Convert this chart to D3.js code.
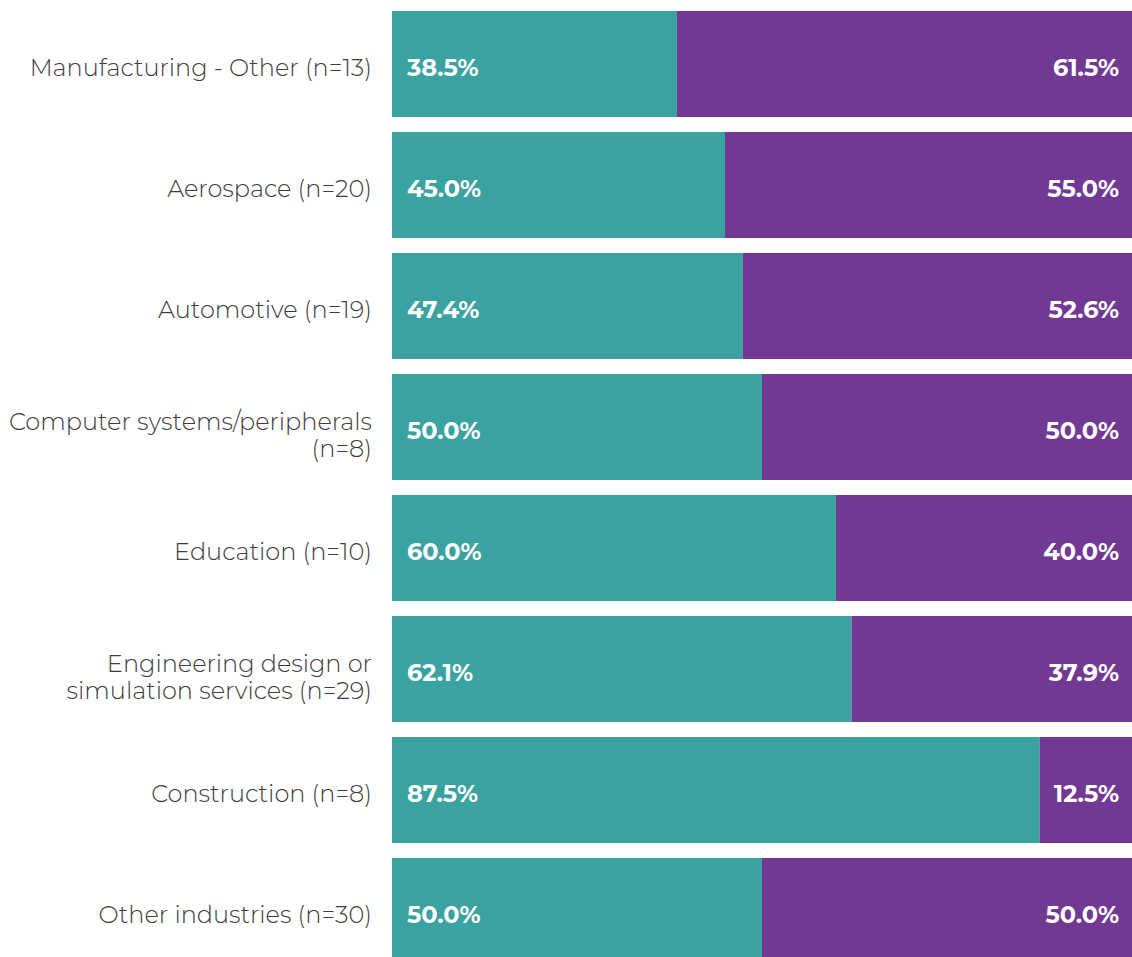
<!DOCTYPE html>
<html>
<head>
<meta charset="utf-8">
<script src="https://cdn.jsdelivr.net/npm/d3@7"></script>
<style>
  html, body { margin: 0; padding: 0; background: #ffffff; }
  svg { display: block; }
</style>
</head>
<body>
<svg id="chart" width="1132" height="957"></svg>
<script>
// Industry categories (label lines) and the two shares per industry, in percent
const categories = [
  ["Manufacturing - Other (n=13)"],
  ["Aerospace (n=20)"],
  ["Automotive (n=19)"],
  ["Computer systems/peripherals", "(n=8)"],
  ["Education (n=10)"],
  ["Engineering design or", "simulation services (n=29)"],
  ["Construction (n=8)"],
  ["Other industries (n=30)"]
];
const firstShare  = [38.5, 45.0, 47.4, 50.0, 60.0, 62.1, 87.5, 50.0];
const secondShare = [61.5, 55.0, 52.6, 50.0, 40.0, 37.9, 12.5, 50.0];
const seriesColors = ["#3aa2a0", "#723994"];

const svg = d3.select("#chart");
const plotLeft = 392, plotRight = 1132, plotTop = 11;
const step = 121, bandH = 106;
const pad = (step - bandH) / step;

const keys = categories.map((c, i) => i);
const y = d3.scaleBand()
  .domain(keys)
  .range([plotTop, plotTop + step * (keys.length - pad)])
  .paddingInner(pad)
  .paddingOuter(0);

const x = d3.scaleLinear().domain([0, 100]).range([plotLeft, plotRight]);

const rows = keys.map(i => ({
  i,
  lines: categories[i],
  a: firstShare[i],
  b: secondShare[i]
}));

const row = svg.append("g").selectAll("g.row").data(rows).join("g").attr("class", "row");

row.append("rect")
  .attr("x", x(0))
  .attr("y", d => y(d.i))
  .attr("width", d => x(d.a) - x(0))
  .attr("height", y.bandwidth())
  .attr("fill", seriesColors[0]);

row.append("rect")
  .attr("x", d => x(d.a))
  .attr("y", d => y(d.i))
  .attr("width", d => x(d.a + d.b) - x(d.a))
  .attr("height", y.bandwidth())
  .attr("fill", seriesColors[1]);

const font = "Montserrat, 'DejaVu Sans', sans-serif";

// Value labels: first share at the bar start, second share at the bar end
row.append("text")
  .attr("x", x(0) + 15)
  .attr("y", d => y(d.i) + y.bandwidth() / 2 + 3.6)
  .attr("dy", "0.35em")
  .attr("fill", "#ffffff")
  .attr("font-family", font)
  .attr("font-weight", "bold")
  .attr("font-size", 24)
  .text(d => d.a.toFixed(1) + "%");

row.append("text")
  .attr("x", x(100) - 13)
  .attr("text-anchor", "end")
  .attr("y", d => y(d.i) + y.bandwidth() / 2 + 3.6)
  .attr("dy", "0.35em")
  .attr("fill", "#ffffff")
  .attr("font-family", font)
  .attr("font-weight", "bold")
  .attr("font-size", 24)
  .text(d => d.b.toFixed(1) + "%");

// Category labels, right-aligned against the bars
const lab = row.append("text")
  .attr("text-anchor", "end")
  .attr("fill", "#3d3d3d")
  .attr("font-family", font)
  .attr("font-weight", 300)
  .attr("font-size", 24)
  .attr("transform", d => `translate(${plotLeft - 20},${y(d.i) + y.bandwidth() / 2})`);

lab.selectAll("tspan")
  .data(d => d.lines.map((t, k) => ({ t, k, n: d.lines.length })))
  .join("tspan")
  .attr("x", 0)
  .attr("y", d => d.n === 1 ? 4 : (d.k === 0 ? -5.7 : 21.9))
  .attr("dy", "0.35em")
  .text(d => d.t);
</script>
</body>
</html>
